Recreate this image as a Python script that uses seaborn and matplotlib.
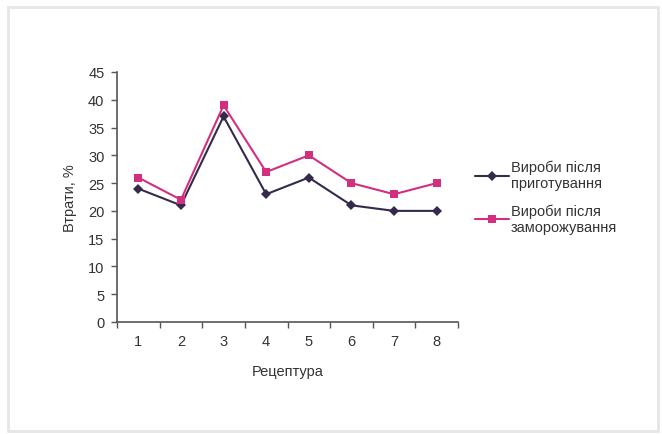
import matplotlib
matplotlib.use("Agg")
import matplotlib.pyplot as plt
import seaborn as sns
import pandas as pd
from matplotlib.patches import Rectangle

recipes = [1, 2, 3, 4, 5, 6, 7, 8]
after_cooking = [24, 21, 37, 23, 26, 21, 20, 20]
after_freezing = [26, 22, 39, 27, 30, 25, 23, 25]
series_names = ["Вироби після\nприготування", "Вироби після\nзаморожування"]
x_label = "Рецептура"
y_label = "Втрати, %"
y_ticks = [0, 5, 10, 15, 20, 25, 30, 35, 40, 45]

df = pd.DataFrame({
    "Рецептура": recipes * 2,
    "value": after_cooking + after_freezing,
    "series": [series_names[0]] * len(recipes) + [series_names[1]] * len(recipes),
})

sns.set_theme(style="white")
plt.rcParams["font.family"] = ["Liberation Sans", "DejaVu Sans"]

fig = plt.figure(figsize=(6.62, 4.35), dpi=100)
fig.patch.set_facecolor("white")
ax = fig.add_axes([117 / 662, 1 - 323 / 435, (458 - 117) / 662, (323 - 73) / 435])

palette = {series_names[0]: "#352a4c", series_names[1]: "#d2307f"}
sns.lineplot(data=df, x="Рецептура", y="value", hue="series", style="series",
             markers={series_names[0]: "D", series_names[1]: "s"},
             dashes=False, palette=palette, linewidth=1.5, markersize=5.5,
             markeredgewidth=0, ax=ax)

ax.set_xlim(0.5, 8.5)
ax.set_ylim(0, 45)
ax.set_yticks(y_ticks)
ax.set_xticks([r + 0.5 for r in [0] + recipes])
ax.set_xticklabels([])
ax.set_xticks(recipes, minor=True)
ax.set_xticklabels([str(r) for r in recipes], minor=True)
ax.tick_params(axis="x", which="major", bottom=True, direction="out", length=4, width=1, color="#555555")
ax.tick_params(axis="x", which="minor", bottom=True, length=0, pad=9, labelsize=10.5, labelcolor="#333333")
ax.tick_params(axis="y", left=True, direction="out", length=4, width=1, color="#555555",
               labelsize=10.5, labelcolor="#333333", pad=5)
for s in ["top", "right"]:
    ax.spines[s].set_visible(False)
for s in ["left", "bottom"]:
    ax.spines[s].set_color("#555555")
    ax.spines[s].set_linewidth(1.2)

ax.set_xlabel(x_label, fontsize=10.5, color="#333333", labelpad=11)
ax.set_ylabel(y_label, fontsize=10.5, color="#333333", labelpad=8)

leg = ax.legend(loc="center left", bbox_to_anchor=(1.012, 0.5), frameon=False,
                fontsize=10.5, handlelength=2.3, handletextpad=0.15, labelspacing=0.9)
for t in leg.get_texts():
    t.set_color("#333333")

fig.patches.append(Rectangle((8 / 662, 3 / 435), (658 - 8) / 662, (427 - 3) / 435,
                             transform=fig.transFigure, fill=False,
                             edgecolor="#e6e6e6", linewidth=2.0))

fig.savefig("out.png", dpi=100)
